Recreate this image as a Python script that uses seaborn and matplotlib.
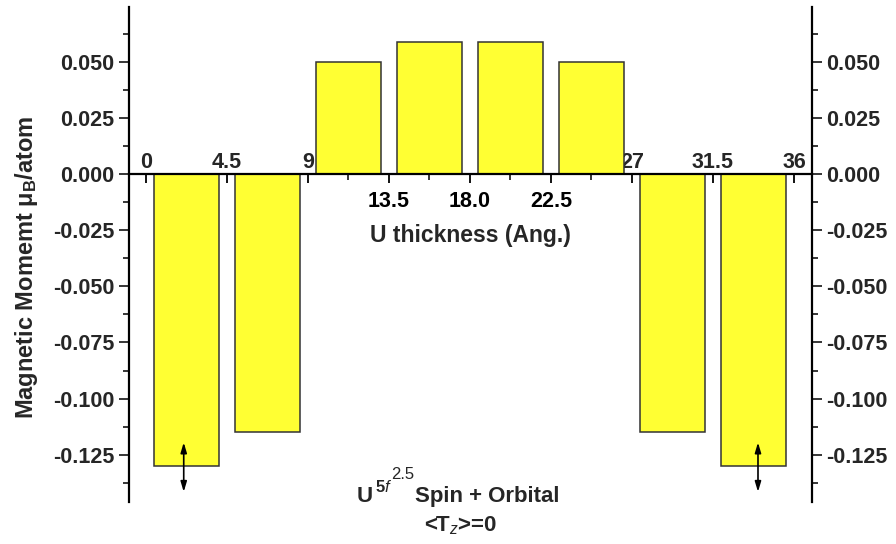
import matplotlib
matplotlib.use('Agg')
import matplotlib.pyplot as plt
import seaborn as sns
import pandas as pd
from matplotlib.ticker import MultipleLocator

# ---- data ----
centers = [2.25, 6.75, 11.25, 15.75, 20.25, 24.75, 29.25, 33.75]
moments = [-0.130, -0.115, 0.050, 0.0587, 0.0587, 0.050, -0.115, -0.130]
xticks_all = [0, 4.5, 9, 13.5, 18.0, 22.5, 27, 31.5, 36]
xtick_text = ['0', '4.5', '9', '13.5', '18.0', '22.5', '27', '31.5', '36']
xlabels_below = ['13.5', '18.0', '22.5']
xticks_above = [0, 4.5, 9, 27, 31.5, 36]
xlabels_above = ['0', '4.5', '9', '27', '31.5', '36']
yticks = [-0.125, -0.100, -0.075, -0.050, -0.025, 0.000, 0.025, 0.050]
ylabels = ['-0.125', '-0.100', '-0.075', '-0.050', '-0.025', '0.000', '0.025', '0.050']
arrow_x = [2.1, 34.0]

sns.set_style('ticks')
plt.rcParams['font.family'] = ['Liberation Sans', 'DejaVu Sans']
plt.rcParams['font.weight'] = 'bold'
plt.rcParams['mathtext.fontset'] = 'custom'
plt.rcParams['mathtext.rm'] = 'Liberation Sans:weight=normal'
plt.rcParams['mathtext.it'] = 'Liberation Sans:style=italic:weight=normal'
plt.rcParams['mathtext.bf'] = 'Liberation Sans:weight=bold'

W, H = 896, 544
fig = plt.figure(figsize=(W / 100, H / 100), dpi=100)
ax = fig.add_axes([129 / W, 1 - 502 / H, (812 - 129) / W, (502 - 7) / H])

df = pd.DataFrame({'x': centers, 'y': moments})
sns.barplot(data=df, x='x', y='y', native_scale=True, width=0.8,
            color='#FFFF33', saturation=1, edgecolor='#333333',
            linewidth=1.1, ax=ax)

ax.set_xlim(-0.94, 37.0)
ax.set_ylim(-0.146, 0.0743)

# spines
for s in ['left', 'right', 'bottom']:
    ax.spines[s].set_linewidth(1.6)
    ax.spines[s].set_color('black')
ax.spines['top'].set_visible(False)
ax.spines['bottom'].set_position(('data', 0))

TICK_FS = 15.5

# x ticks (labels below the zero line)
ax.set_xticks(xticks_all)
ax.set_xticklabels([l if l in xlabels_below else '' for l in xtick_text])
ax.xaxis.set_minor_locator(MultipleLocator(2.25))
ax.tick_params(axis='x', which='major', direction='out', length=6.5, width=1.3,
               pad=5.5, labelsize=TICK_FS, colors='black')
ax.tick_params(axis='x', which='minor', direction='out', length=4, width=1.3)

# x tick labels above the zero line
sec = ax.secondary_xaxis(0, transform=ax.transData)
sec.set_alignment('top')
sec.spines['top'].set_visible(False)
sec.spines['bottom'].set_visible(False)
sec.set_xticks(xticks_above)
sec.set_xticklabels(xlabels_above)
sec.tick_params(axis='x', which='both', length=0, pad=1, labelsize=TICK_FS)
sec.xaxis.set_minor_locator(MultipleLocator(100))

# y ticks on both sides
ax.set_yticks(yticks)
ax.set_yticklabels(ylabels)
ax.yaxis.set_minor_locator(MultipleLocator(0.0125))
ax.tick_params(axis='y', which='both', left=True, right=True, labelleft=True,
               labelright=True, direction='out')
ax.tick_params(axis='y', which='major', length=7.5, width=1.3, pad=3,
               labelsize=TICK_FS)
ax.tick_params(axis='y', which='minor', length=4, width=1.3)

ax.set_xlabel('')
ax.set_ylabel(r'Magnetic Momemt $\mathregular{\mu_B}$/atom', fontsize=17,
              fontweight='bold')
ax.yaxis.set_label_coords(-0.13, 0.474)

ax.text(18.0, -0.0275, 'U thickness (Ang.)', ha='center', va='center',
        fontsize=16.5, fontweight='bold')

# arrows
for xa in arrow_x:
    ax.annotate('', xy=(xa, -0.1415), xytext=(xa, -0.1195),
                arrowprops=dict(arrowstyle='<|-|>,head_length=0.6,head_width=0.18',
                                color='black', lw=1.2, shrinkA=0, shrinkB=0),
                annotation_clip=False)

# bottom annotation
def px(x, y):
    return x / W, 1 - y / H

fig.text(*px(357, 502), 'U', ha='left', va='baseline', fontsize=16,
         fontweight='bold')
fig.text(*px(375, 492), r'$\mathregular{5}\mathit{f}$', ha='left',
         va='baseline', fontsize=12)
fig.text(*px(391, 479), '2.5', ha='left', va='baseline', fontsize=12,
         fontweight='normal')
fig.text(*px(415, 502), 'Spin + Orbital', ha='left', va='baseline',
         fontsize=16, fontweight='bold')
fig.text(*px(461, 531), r'<T$_{\mathit{z}}$>=0', ha='center', va='baseline',
         fontsize=16, fontweight='bold')

fig.savefig('out.png', dpi=100)
